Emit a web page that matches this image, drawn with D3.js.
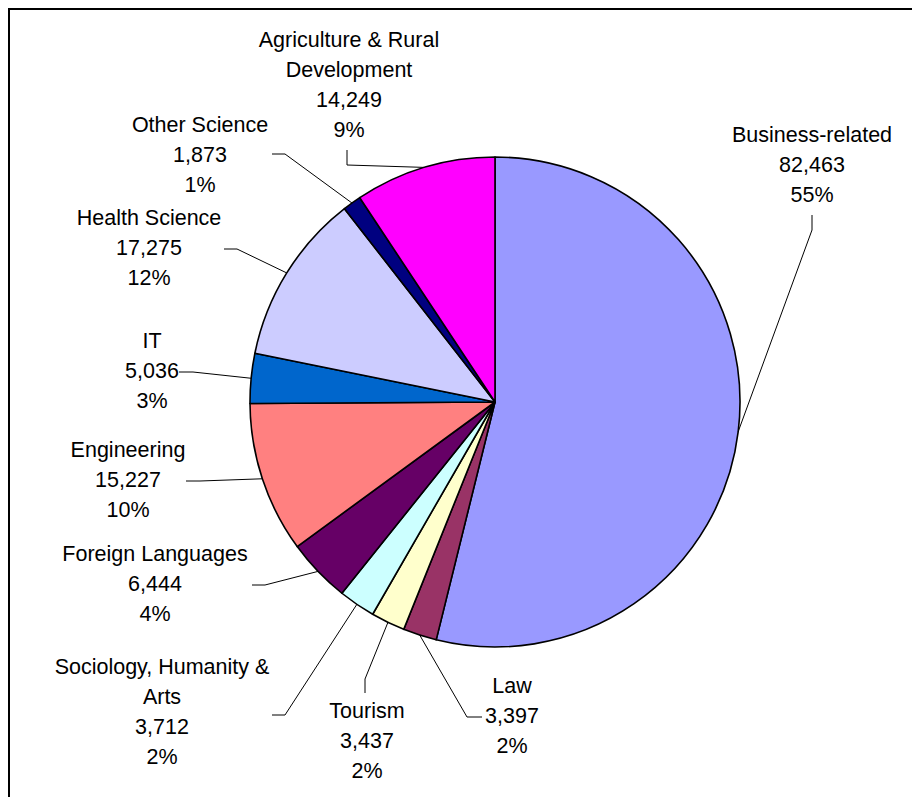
<!DOCTYPE html>
<html>
<head>
<meta charset="utf-8">
<script src="https://cdn.jsdelivr.net/npm/d3@7"></script>
<style>
  html, body { margin: 0; padding: 0; background: #fff; }
  svg { display: block; }
  text { font-family: "Liberation Sans", Arial, sans-serif; font-size: 21.5px; fill: #000; }
</style>
</head>
<body>
<svg id="chart" width="912" height="797"></svg>
<script>
// Enrolment by field of study
const categories = [
  "Business-related",
  "Law",
  "Tourism",
  "Sociology, Humanity &\nArts",
  "Foreign Languages",
  "Engineering",
  "IT",
  "Health Science",
  "Other Science",
  "Agriculture & Rural\nDevelopment"
];
const values = [82463, 3397, 3437, 3712, 6444, 15227, 5036, 17275, 1873, 14249];
const percentLabels = ["55%", "2%", "2%", "2%", "4%", "10%", "3%", "12%", "1%", "9%"];
const colors = ["#9999FF", "#993366", "#FFFFCC", "#CCFFFF", "#660066",
                "#FF8080", "#0066CC", "#CCCCFF", "#000080", "#FF00FF"];

// Label placement: text centre x, first baseline y, and the leader line's
// two elbow points (the third point sits on the slice's outer edge).
const labelLayout = [
  { x: 812, y: 142, elbow: [[812, 215], [812, 230]] },
  { x: 512, y: 693, elbow: [[482, 717], [467, 717]] },
  { x: 367, y: 718, elbow: [[365, 693], [365, 679]] },
  { x: 162, y: 674, elbow: [[272, 715], [285, 715]] },
  { x: 155, y: 561, elbow: [[252, 585], [265, 585]] },
  { x: 128, y: 457, elbow: [[186, 481], [200, 481]] },
  { x: 152, y: 348, elbow: [[179, 372], [193, 372]] },
  { x: 149, y: 225, elbow: [[224, 249], [237, 249]] },
  { x: 200, y: 132, elbow: [[272, 154], [285, 154]] },
  { x: 349, y: 47,  elbow: [[347, 150], [347, 165]] }
];

const lineHeight = 30;
const cx = 495, cy = 402, radius = 245;
const fmt = d3.format(",");

const svg = d3.select("#chart");

// outer frame
svg.append("rect")
  .attr("x", 9).attr("y", 9)
  .attr("width", 1000).attr("height", 1000)
  .attr("fill", "none").attr("stroke", "#000").attr("stroke-width", 2);

const data = categories.map((c, i) => ({ name: c, value: values[i], pct: percentLabels[i], color: colors[i], layout: labelLayout[i] }));

const pie = d3.pie().sort(null).value(d => d.value).startAngle(0).endAngle(2 * Math.PI);
const arcs = pie(data);
const arc = d3.arc().innerRadius(0).outerRadius(radius);
const edgeArc = d3.arc().innerRadius(radius).outerRadius(radius);

const g = svg.append("g").attr("transform", `translate(${cx},${cy})`);

// leader lines
svg.append("g").selectAll("polyline")
  .data(arcs)
  .join("polyline")
  .attr("points", d => {
    const [ex, ey] = edgeArc.centroid(d);
    const pts = d.data.layout.elbow.concat([[cx + ex, cy + ey]]);
    return pts.map(p => p.join(",")).join(" ");
  })
  .attr("fill", "none")
  .attr("stroke", "#000")
  .attr("stroke-width", 1);

// slices
g.selectAll("path")
  .data(arcs)
  .join("path")
  .attr("d", arc)
  .attr("fill", d => d.data.color)
  .attr("stroke", "#000")
  .attr("stroke-width", 1.6)
  .attr("stroke-linejoin", "round");

// labels: name (may wrap), value, percentage
const labels = svg.append("g").selectAll("text")
  .data(arcs)
  .join("text")
  .attr("text-anchor", "middle")
  .attr("x", d => d.data.layout.x)
  .attr("y", d => d.data.layout.y);

labels.each(function (d) {
  const lines = d.data.name.split("\n").concat([fmt(d.data.value), d.data.pct]);
  d3.select(this).selectAll("tspan")
    .data(lines)
    .join("tspan")
    .attr("x", d.data.layout.x)
    .attr("dy", (t, i) => i === 0 ? 0 : lineHeight)
    .text(t => t);
});
</script>
</body>
</html>
